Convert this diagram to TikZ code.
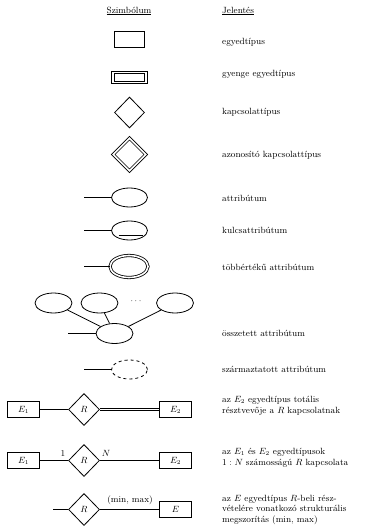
\documentclass[tikz,border=0pt]{standalone}
\usepackage{fontspec}
\usetikzlibrary{shapes.geometric}
\newcommand\descfont{\fontsize{9}{10.5}\selectfont\addfontfeatures{LetterSpace=8}}
\begin{document}
\begin{tikzpicture}[x=1pt,y=-1pt,
  lw/.style={line width=0.8pt},
  ent/.style={draw,lw,rectangle,minimum width=32pt,minimum height=16pt,inner sep=0pt,font=\descfont},
  rel/.style={draw,lw,diamond,minimum width=31pt,minimum height=32pt,inner sep=0pt,font=\descfont},
  att/.style={draw,lw,ellipse,minimum width=36pt,minimum height=19pt,inner sep=0pt},
  desc/.style={anchor=west,align=left,font=\descfont,inner sep=0pt},
  lbl/.style={font=\descfont,inner sep=0pt},
  conn/.style={draw,lw},
  dbl/.style={double,double distance=1.6pt},
]
\useasboundingbox (0,0) rectangle (368,527);

% headers
\node[lbl] (h1) at (129,11) {\underline{Szimbólum}};
\node[desc] (h2) at (222,11) {\underline{Jelentés}};

% entity
\node[ent,minimum width=30pt] (ent) at (129.5,39.5) {};
\node[desc] (d1) at (222,42) {egyedtípus};

% weak entity
\node[ent,minimum width=36pt,minimum height=12pt] (weak) at (129.5,77.5) {};
\node[ent,minimum width=30pt,minimum height=8pt] (weakin) at (129.5,77.5) {};
\node[desc] (d2) at (222,74) {gyenge egyedtípus};

% relationship
\node[rel,minimum width=30pt,minimum height=31pt] (rel) at (129.5,112.5) {};
\node[desc] (d3) at (222,112) {kapcsolattípus};

% identifying relationship
\node[rel,dbl,minimum width=33pt,minimum height=33pt] (idrel) at (129.5,154.5) {};
\node[desc] (d4) at (222,155) {azonosító kapcsolattípus};

% attribute
\coordinate (a1) at (84,197.5);
\node[att] (att) at (129.5,197.5) {};
\draw[conn] (a1) -- (att);
\node[desc] (d5) at (222,198) {attribútum};

% key attribute
\coordinate (k1) at (84,230.5);
\node[att] (key) at (129.5,230.5) {};
\draw[conn] (k1) -- (key);
\draw[conn] ([xshift=-11pt,yshift=-5pt]key.center) -- ([xshift=13pt,yshift=-5pt]key.center);
\node[desc] (d6) at (222,230) {kulcsattribútum};

% multivalued attribute
\coordinate (m1) at (84,266.5);
\node[att,dbl,minimum width=38pt,minimum height=22pt] (multi) at (129,266.5) {};
\draw[conn] (m1) -- (multi);
\node[desc] (d7) at (222,267) {többértékű attribútum};

% composite attribute
\node[att,minimum width=37pt,minimum height=20pt] (c1) at (53.5,303) {};
\node[att,minimum width=37pt,minimum height=20pt] (c2) at (99.5,303) {};
\node[att,minimum width=37pt,minimum height=20pt] (c3) at (175,303) {};
\node[lbl] (cdots) at (136,301) {$\cdots$};
\node[att,minimum width=37pt,minimum height=20pt] (cb) at (114.5,333.5) {};
\coordinate (cb1) at (68,333.5);
\draw[conn] (c1) -- (cb);
\draw[conn] (c2) -- (cb);
\draw[conn] (c3) -- (cb);
\draw[conn] (cb1) -- (cb);
\node[desc] (d8) at (222,333) {összetett attribútum};

% derived attribute
\coordinate (s1) at (84,369.5);
\node[att,dashed] (der) at (129.5,369.5) {};
\draw[conn] (s1) -- (der);
\node[desc] (d9) at (222,369) {származtatott attribútum};

% total participation
\node[ent] (r1e1) at (23.5,409.5) {$E_1$};
\node[rel] (r1r) at (84,409.5) {$R$};
\node[ent] (r1e2) at (175.5,409.5) {$E_2$};
\draw[conn] (r1e1) -- (r1r);
\draw[conn,dbl] (r1r) -- (r1e2);
\node[desc] (d10) at (222,406) {az $E_2$ egyedtípus totális\\résztvevője a $R$ kapcsolatnak};

% cardinality
\node[ent] (r2e1) at (23.5,460.5) {$E_1$};
\node[rel] (r2r) at (84,460.5) {$R$};
\node[ent] (r2e2) at (175.5,460.5) {$E_2$};
\draw[conn] (r2e1) -- (r2r);
\draw[conn] (r2r) -- (r2e2);
\node[lbl] (one) at (63,453) {1};
\node[lbl] (enn) at (106,453) {$N$};
\node[desc] (d11) at (222,458) {az $E_1$ és $E_2$ egyedtípusok\\$1:N$ számosságú $R$ kapcsolata};

% structural constraint
\coordinate (r3a) at (53,509.5);
\node[rel] (r3r) at (84,509.5) {$R$};
\node[ent] (r3e) at (175.5,509.5) {$E$};
\draw[conn] (r3a) -- (r3r);
\draw[conn] (r3r) -- (r3e);
\node[lbl] (minmax) at (130,500) {(min, max)};
\node[desc] (d12) at (222,509.5) {az $E$ egyedtípus $R$-beli rész-\\vételére vonatkozó strukturális\\megszorítás (min, max)};
\end{tikzpicture}
\end{document}
